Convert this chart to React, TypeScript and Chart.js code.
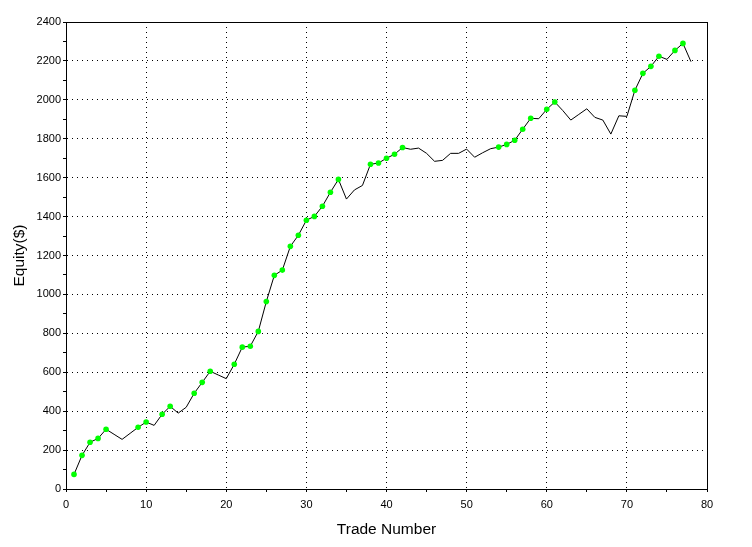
import React, { useEffect, useRef } from "react";
import { Chart, registerables } from "chart.js";

Chart.register(...registerables);

const tradeNumbers = [
  1, 2, 3, 4, 5, 6, 7, 8, 9, 10, 11, 12, 13, 14, 15, 16, 17, 18, 19, 20,
  21, 22, 23, 24, 25, 26, 27, 28, 29, 30, 31, 32, 33, 34, 35, 36, 37, 38, 39, 40,
  41, 42, 43, 44, 45, 46, 47, 48, 49, 50, 51, 52, 53, 54, 55, 56, 57, 58, 59, 60,
  61, 62, 63, 64, 65, 66, 67, 68, 69, 70, 71, 72, 73, 74, 75, 76, 77, 78,
];

const equity = [
  75, 173, 240, 260, 307, 281, 255, 286, 317, 344,
  327, 384, 425, 390, 420, 492, 548, 605, 586, 567,
  641, 729, 734, 810, 963, 1098, 1125, 1247, 1304, 1381,
  1401, 1453, 1525, 1591, 1490, 1537, 1560, 1669, 1675, 1700,
  1720, 1755, 1746, 1752, 1725, 1684, 1689, 1725, 1725, 1747,
  1705, 1728, 1749, 1757, 1771, 1792, 1849, 1905, 1903, 1951,
  1989, 1945, 1896, 1925, 1954, 1910, 1896, 1824, 1918, 1915,
  2049, 2136, 2172, 2224, 2208, 2254, 2290, 2196,
];

const xTitle = "Trade Number";
const yTitle = "Equity($)";

const X_MIN = 0;
const X_MAX = 80;
const Y_MIN = 0;
const Y_MAX = 2400;

// marks trades that set a new equity high (green dots)
const isNewHigh: boolean[] = (() => {
  let best = -Infinity;
  return equity.map((v) => {
    const hit = v > best;
    if (hit) best = v;
    return hit;
  });
})();

const framePlugin = {
  id: "frame",
  afterDraw(chart: any) {
    const { ctx, chartArea } = chart;
    const l = Math.floor(chartArea.left) + 0.5;
    const t = Math.floor(chartArea.top) + 0.5;
    const r = Math.floor(chartArea.right) + 0.5;
    const b = Math.floor(chartArea.bottom) + 0.5;
    ctx.save();
    ctx.strokeStyle = "#000";
    ctx.lineWidth = 1;
    ctx.setLineDash([]);
    ctx.strokeRect(l, t, r - l, b - t);
    ctx.restore();
  },
};

export default function App() {
  const ref = useRef<HTMLCanvasElement | null>(null);

  useEffect(() => {
    if (!ref.current) return;
    const font = "'Liberation Sans', Arial, sans-serif";
    const chart = new Chart(ref.current, {
      type: "line",
      data: {
        datasets: [
          {
            data: tradeNumbers.map((x, i) => ({ x, y: equity[i] })),
            borderColor: "#000",
            borderWidth: 1,
            tension: 0,
            fill: false,
            pointRadius: (ctx: any) => (isNewHigh[ctx.dataIndex] ? 2.8 : 0),
            pointHoverRadius: 0,
            pointBackgroundColor: "#00ff00",
            pointBorderColor: "#00ff00",
            pointBorderWidth: 0,
          },
        ],
      },
      options: {
        animation: false,
        responsive: false,
        devicePixelRatio: 1,
        events: [],
        layout: { padding: { top: 22, right: 45, left: 0, bottom: 0 } },
        plugins: {
          legend: { display: false },
          tooltip: { enabled: false },
        },
        scales: {
          x: {
            type: "linear",
            min: X_MIN,
            max: X_MAX,
            afterFit: (s: any) => {
              s.height = 58;
            },
            ticks: {
              stepSize: 5,
              autoSkip: false,
              maxRotation: 0,
              padding: 6,
              color: "#000",
              font: { family: font, size: 11 },
              callback: (v: any) => (Number(v) % 10 === 0 ? String(v) : ""),
            },
            grid: {
              color: (ctx: any) =>
                ctx.tick && ctx.tick.value % 10 === 0 ? "#000" : "rgba(0,0,0,0)",
              tickColor: "#000",
              tickLength: 3,
              tickBorderDash: [],
              lineWidth: 1,
            },
            border: { display: true, color: "#000", width: 1, dash: [1, 4] },
            title: {
              display: true,
              text: xTitle,
              color: "#000",
              font: { family: font, size: 15.5 },
              padding: { top: 0, bottom: 8 },
            },
          },
          y: {
            type: "linear",
            min: Y_MIN,
            max: Y_MAX,
            afterFit: (s: any) => {
              s.width = 66;
            },
            ticks: {
              stepSize: 100,
              autoSkip: false,
              padding: 2,
              color: "#000",
              font: { family: font, size: 11 },
              callback: (v: any) => (Number(v) % 200 === 0 ? String(v) : ""),
            },
            grid: {
              color: (ctx: any) =>
                ctx.tick && ctx.tick.value % 200 === 0 ? "#000" : "rgba(0,0,0,0)",
              tickColor: "#000",
              tickLength: 3,
              tickBorderDash: [],
              lineWidth: 1,
            },
            border: { display: true, color: "#000", width: 1, dash: [1, 4] },
            title: {
              display: true,
              text: yTitle,
              color: "#000",
              font: { family: font, size: 15.5 },
              padding: { top: 10, bottom: 0 },
            },
          },
        },
      },
      plugins: [framePlugin],
    } as any);
    return () => chart.destroy();
  }, []);

  return (
    <canvas
      ref={ref}
      width={752}
      height={547}
      style={{ position: "absolute", left: 0, top: 0, width: 752, height: 547, display: "block", background: "#fff" }}
    />
  );
}
